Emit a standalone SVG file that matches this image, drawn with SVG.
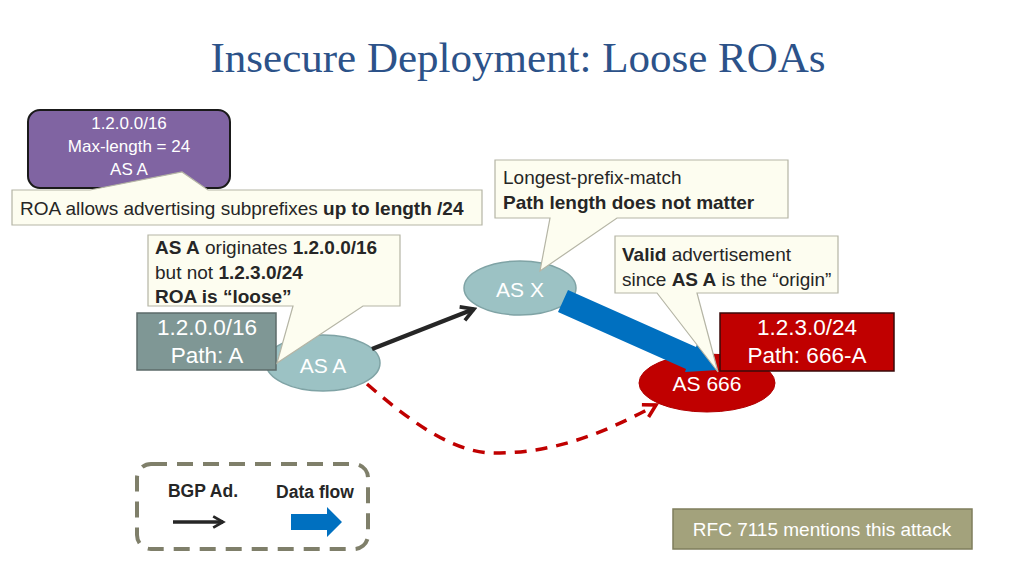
<svg xmlns="http://www.w3.org/2000/svg" width="1024" height="576" viewBox="0 0 1024 576">
<style>
text{font-family:"Liberation Sans","Open Sans",sans-serif}
.title{font-family:"Liberation Serif",serif;font-size:43px;fill:#2C5289}
.call{fill:#FDFDF0;stroke:#B5B5A5;stroke-width:1.2}
.ct{font-size:19px;fill:#262626}
.b{font-weight:bold}
.wt{fill:#fff;text-anchor:middle}
.node{fill:#9CC2C4;stroke:#7FA3A5;stroke-width:1.5}
</style>
<defs>
<marker id="ah" viewBox="0 0 10 10" refX="8" refY="5" markerWidth="4" markerHeight="4" orient="auto" markerUnits="strokeWidth">
<path d="M1,1 L8,5 L1,9" fill="none" stroke="#262626" stroke-width="2"/>
</marker>
<marker id="ahr" viewBox="0 0 10 10" refX="8" refY="5" markerWidth="5" markerHeight="5" orient="auto" markerUnits="strokeWidth">
<path d="M1,1 L8,5 L1,9" fill="none" stroke="#C00000" stroke-width="2"/>
</marker>
</defs>
<rect width="1024" height="576" fill="#fff"/>
<text class="title" x="518" y="72" text-anchor="middle">Insecure Deployment: Loose ROAs</text>

<g id="roa">
<rect x="28" y="110" width="202" height="78" rx="12" fill="#8064A2" stroke="#1a1a1a" stroke-width="2"/>
<text class="wt" x="129" y="129" font-size="17">1.2.0.0/16</text>
<text class="wt" x="129" y="152" font-size="17">Max-length = 24</text>
<text class="wt" x="129" y="175" font-size="17">AS A</text>
</g>

<g id="asA">
<ellipse class="node" cx="323" cy="363" rx="57" ry="28"/>
<text class="wt" x="323" y="373" font-size="21">AS A</text>
</g>
<g id="asX">
<ellipse class="node" cx="520" cy="288" rx="56" ry="27"/>
<text class="wt" x="520" y="297" font-size="21">AS X</text>
</g>
<g id="as666">
<ellipse cx="707" cy="383" rx="68" ry="29" fill="#C00000" stroke="#B00000" stroke-width="1"/>
<text class="wt" x="707" y="391" font-size="21">AS 666</text>
</g>

<g id="connectors">
<line x1="372" y1="349" x2="474" y2="309" stroke="#262626" stroke-width="4.5" marker-end="url(#ah)"/>
<path d="M367,384 C420,430 460,455 500,453 C560,452 610,430 656,405" fill="none" stroke="#C00000" stroke-width="3.5" stroke-dasharray="12,9" marker-end="url(#ahr)"/>
<polygon points="568,290 696,347 697,344 718,370 685,372 686,369 558,312" fill="#0070C0"/>
</g>

<g id="adA">
<rect x="137" y="313" width="139" height="57" fill="#7F9795" stroke="#5C6B6A" stroke-width="1.5"/>
<text class="wt" x="207" y="335" font-size="22.5">1.2.0.0/16</text>
<text class="wt" x="207" y="363" font-size="22.5">Path: A</text>
</g>
<g id="ad666">
<rect x="720" y="313" width="174" height="58" fill="#C00000" stroke="#3A0A0A" stroke-width="1.5"/>
<text class="wt" x="807" y="335" font-size="22.5">1.2.3.0/24</text>
<text class="wt" x="807" y="363" font-size="22.5">Path: 666-A</text>
</g>

<g id="callout1">
<path class="call" d="M12,190 H90 L182,172 L208,190 H482 V225 H12 Z"/>
<text class="ct" x="20" y="215">ROA allows advertising subprefixes <tspan class="b">up to length /24</tspan></text>
</g>
<g id="callout2">
<path class="call" d="M495,160 H788 V218 H617 L540,271 L550,218 H495 Z"/>
<text class="ct" x="503" y="184">Longest-prefix-match</text>
<text class="ct b" x="503" y="209">Path length does not matter</text>
</g>
<g id="callout3">
<path class="call" d="M148,235 H400 V306 H363 L277,363 L293,306 H148 Z"/>
<text class="ct" x="155" y="254"><tspan class="b">AS A</tspan> originates <tspan class="b">1.2.0.0/16</tspan></text>
<text class="ct" x="155" y="279">but not <tspan class="b">1.2.3.0/24</tspan></text>
<text class="ct b" x="155" y="303">ROA is “loose”</text>
</g>
<g id="callout4">
<path class="call" d="M615,236 H838 V293 H697 L718,372 L657,293 H615 Z"/>
<text class="ct" x="622" y="261"><tspan class="b">Valid</tspan> advertisement</text>
<text class="ct" x="622" y="286">since <tspan class="b">AS A</tspan> is the “origin”</text>
</g>

<g id="legend">
<rect x="137" y="464" width="231" height="85" rx="14" fill="none" stroke="#7F7F6A" stroke-width="4" stroke-dasharray="16,10"/>
<text class="b" x="203" y="497" font-size="17.5" text-anchor="middle" fill="#262626">BGP Ad.</text>
<text class="b" x="315" y="498" font-size="17.5" text-anchor="middle" fill="#262626">Data flow</text>
<line x1="173" y1="522" x2="223" y2="522" stroke="#262626" stroke-width="3.5" marker-end="url(#ah)"/>
<polygon points="291,514 327,514 327,507 342,522 327,537 327,530 291,530" fill="#0070C0"/>
</g>

<g id="rfc">
<rect x="673" y="509" width="299" height="40" fill="#A3A27C" stroke="#7F7E5C" stroke-width="1.5"/>
<text class="wt" x="822" y="536" font-size="19">RFC 7115 mentions this attack</text>
</g>
</svg>
